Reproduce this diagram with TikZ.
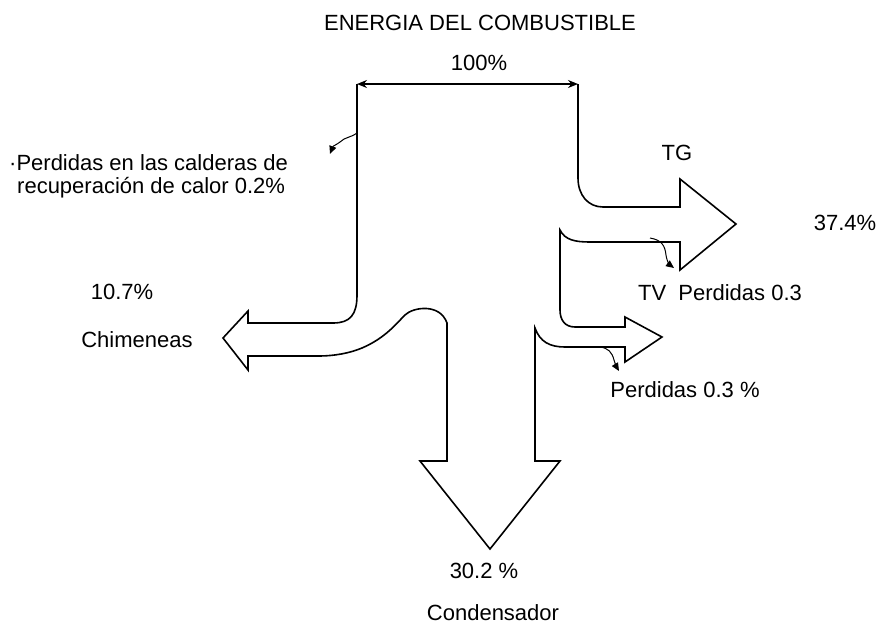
\documentclass[tikz,border=0pt]{standalone}
\usepackage{fontspec}
\setmainfont{Liberation Sans}
\usetikzlibrary{arrows.meta}
\begin{document}
\begin{tikzpicture}[x=1pt,y=-1pt,
  flow/.style={draw=black, line width=1.6pt, line join=miter},
  lbl/.style={font=\fontsize{22}{26}\selectfont, inner sep=0pt},
  note/.style={draw=black, line width=1pt, -{Triangle[length=8pt,width=7pt]}},
  dimline/.style={draw=black, line width=1.4pt, {Stealth[length=10pt,width=8pt]}-{Stealth[length=10pt,width=8pt]}}]
\useasboundingbox (0,0) rectangle (879,625);

% dimension
\coordinate (dL) at (357,84);
\coordinate (dR) at (578,84);
\draw[dimline] (dL) -- (dR);

% main flow outline
\draw[flow] (dL) -- (357,295) .. controls (357,315) and (350,323) .. (333,323)
  -- (248,323) -- (248,311) -- (223,338) -- (248,370) -- (248,356) -- (318,356)
  .. controls (335,356) and (350,353) .. (362,348)
  .. controls (385,338) and (395,325) .. (405,315)
  .. controls (413,307) and (440,303) .. (447,323)
  -- (447,461) -- (420,461) -- (490,549) -- (560,461) -- (535,461) -- (535,328)
  .. controls (540,342) and (550,347) .. (565,347)
  -- (625,347) -- (625,362) -- (662,337) -- (625,317) -- (625,327) -- (575,327)
  .. controls (565,327) and (560,320) .. (560,310)
  -- (560,230) .. controls (565,240) and (575,242) .. (590,242)
  -- (680,242) -- (680,270) -- (736,224) -- (680,179) -- (680,207) -- (603,207)
  .. controls (588,207) and (578,195) .. (578,178) -- (dR);

% annotation arrows
\coordinate (a1s) at (357,133);
\coordinate (a1e) at (330,154);
\draw[note] (a1s) .. controls (350,138) and (345,137) .. (340,142) .. controls (336,145) and (333,146) .. (a1e);
\coordinate (a2s) at (650,238);
\coordinate (a2e) at (674,268);
\draw[note] (a2s) .. controls (662,240) and (665,246) .. (666,255) .. controls (667,262) and (670,265) .. (a2e);
\coordinate (a3s) at (600,347);
\coordinate (a3e) at (619,371);
\draw[note] (a3s) .. controls (608,348) and (612,352) .. (614,360) .. controls (616,366) .. (a3e);

% labels
\node[lbl] (title) at (480,23) {ENERGIA DEL COMBUSTIBLE};
\node[lbl] (pct100) at (479,63) {100\%};
\node[lbl, anchor=west] (perd1a) at (9,163) {·Perdidas en las calderas de};
\node[lbl, anchor=west] (perd1b) at (17,188) {recuperación de calor 0.2\%};
\node[lbl] (tg) at (677,153) {TG};
\node[lbl] (p374) at (845,223) {37.4\%};
\node[lbl] (tv) at (720,293) {TV\ \ Perdidas 0.3};
\node[lbl] (p107) at (122,292) {10.7\%};
\node[lbl] (chim) at (137,340) {Chimeneas};
\node[lbl] (perd3) at (685,390) {Perdidas 0.3 \%};
\node[lbl] (p302) at (484,571) {30.2 \%};
\node[lbl] (cond) at (493,613) {Condensador};
\end{tikzpicture}
\end{document}
